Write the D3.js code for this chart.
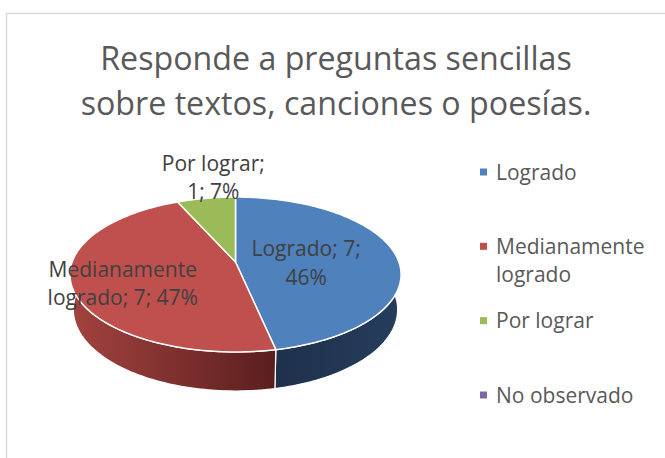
<!DOCTYPE html>
<html>
<head>
<meta charset="utf-8">
<script src="https://cdn.jsdelivr.net/npm/d3@7"></script>
<style>
  body { margin: 0; background: #fff; }
  text { font-family: "Open Sans", "Noto Sans", sans-serif; }
</style>
</head>
<body>
<div id="chart"></div>
<script>
var titleLines = ["Responde a preguntas sencillas", "sobre textos, canciones o poesías."];
var categories = ["Logrado", "Medianamente logrado", "Por lograr", "No observado"];
var values = [7, 7, 1, 0];
var percents = ["46%", "47%", "7%", "0%"];
var legendLines = [["Logrado"], ["Medianamente", "logrado"], ["Por lograr"], ["No observado"]];
var labelLines = [["Logrado; 7;", "46%"], ["Medianamente", "logrado; 7; 47%"], ["Por lograr;", "1; 7%"]];
var colors = ["#4F81BD", "#C0504D", "#9BBB59", "#8064A2"];

var width = 665, height = 458;

var svg = d3.select("#chart").append("svg")
    .attr("width", width)
    .attr("height", height);

// chart frame (goes past the right and bottom edges)
svg.append("rect")
    .attr("x", 6.5).attr("y", 13.5)
    .attr("width", 720).attr("height", 520)
    .attr("fill", "none")
    .attr("stroke", "#D9D9D9")
    .attr("stroke-width", 1.5);

// title
svg.append("g").selectAll("text")
    .data(titleLines)
    .enter().append("text")
    .attr("x", 336)
    .attr("y", function (d, i) { return 70 + i * 45; })
    .attr("text-anchor", "middle")
    .attr("font-size", 32.2)
    .attr("fill", "#595959")
    .text(function (d) { return d; });

// 3d pie: slices of a disc seen in perspective
var cx = 235.5, cy = 262, focal = 897, dist = 5.49, tilt = 27.5 * Math.PI / 180, thick = 0.244;
var cosT = Math.cos(tilt), sinT = Math.sin(tilt);

function proj(theta, r, yy) {
    var X = r * Math.sin(theta), Z = r * Math.cos(theta);
    var yc = Z * sinT + yy * cosT;
    var zc = dist + Z * cosT - yy * sinT;
    return [cx + focal * X / zc, cy - focal * yc / zc];
}

function arcPts(a0, a1, yy) {
    var n = Math.max(2, Math.ceil(Math.abs(a1 - a0) / 0.02));
    var pts = [];
    for (var k = 0; k <= n; k++) {
        pts.push(proj(a0 + (a1 - a0) * k / n, 1, yy));
    }
    return pts;
}

var pie = d3.pie().sort(null).value(function (d) { return d; });
var slices = pie(values).filter(function (d) { return d.value > 0; });
var line = d3.line();

var defs = svg.append("defs");
var sideGrad = [
    ["#1E314C", "#253D5C"],
    ["#5A1E1E", "#A3433F"],
    ["#6E8A3A", "#9BBB59"]
];
sideGrad.forEach(function (c, i) {
    var g = defs.append("linearGradient")
        .attr("id", "side" + i)
        .attr("gradientUnits", "userSpaceOnUse")
        .attr("x1", 276).attr("y1", 0)
        .attr("x2", i == 1 ? 70 : 401).attr("y2", 0);
    g.append("stop").attr("offset", 0).attr("stop-color", c[0]);
    g.append("stop").attr("offset", 1).attr("stop-color", c[1]);
});

// visible outer wall: front half
var sideG = svg.append("g");
slices.forEach(function (d) {
    var i = d.index;
    var a0 = Math.max(d.startAngle, Math.PI / 2);
    var a1 = Math.min(d.endAngle, 3 * Math.PI / 2);
    if (a1 <= a0) return;
    var pts = arcPts(a0, a1, 0).concat(arcPts(a1, a0, -thick));
    sideG.append("path")
        .attr("d", line(pts) + "Z")
        .attr("fill", "url(#side" + i + ")")
        .attr("stroke", "#fff")
        .attr("stroke-width", 1.2)
        .attr("stroke-linejoin", "round");
});

// top faces
svg.append("g").selectAll("path")
    .data(slices)
    .enter().append("path")
    .attr("d", function (d) {
        return line([[cx, cy]].concat(arcPts(d.startAngle, d.endAngle, 0))) + "Z";
    })
    .attr("fill", function (d) { return colors[d.index]; })
    .attr("stroke", "#fff")
    .attr("stroke-width", 1.5)
    .attr("stroke-linejoin", "round");

// data labels
var labelPlace = [{ r: 0.45, dx: -2 }, { r: 0.7, dx: 0 }, { r: 1.5, dx: 19 }];
var labG = svg.append("g");
slices.forEach(function (d) {
    var i = d.index;
    if (!labelLines[i]) return;
    var mid = (d.startAngle + d.endAngle) / 2;
    var p = proj(mid, labelPlace[i].r, 0);
    labG.selectAll(null)
        .data(labelLines[i])
        .enter().append("text")
        .attr("x", p[0] + labelPlace[i].dx)
        .attr("y", function (t, k) { return p[1] - 2 + k * 28.5; })
        .attr("text-anchor", "middle")
        .attr("font-size", 21)
        .attr("fill", "#404040")
        .text(function (t) { return t; });
});

// legend
var ly = d3.scaleLinear().domain([0, categories.length - 1]).range([172, 395]);
var leg = svg.append("g").selectAll("g")
    .data(categories)
    .enter().append("g")
    .attr("transform", function (d, i) { return "translate(480," + ly(i) + ")"; });
leg.append("rect")
    .attr("x", 0).attr("y", -3.5)
    .attr("width", 7).attr("height", 7)
    .attr("fill", function (d, i) { return colors[i]; });
leg.each(function (d, i) {
    d3.select(this).selectAll("text")
        .data(legendLines[i])
        .enter().append("text")
        .attr("x", 16)
        .attr("y", function (t, k) { return 7.5 + k * 28; })
        .attr("font-size", 21)
        .attr("fill", "#595959")
        .text(function (t) { return t; });
});
</script>
</body>
</html>
